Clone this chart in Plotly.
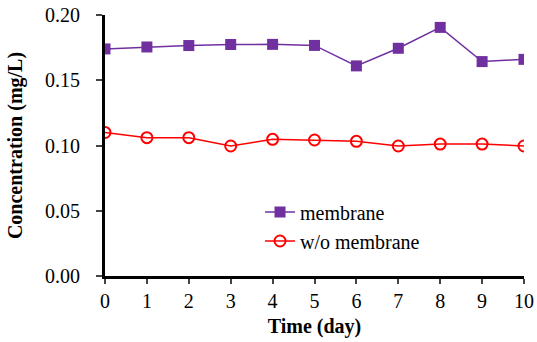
import plotly.graph_objects as go

days = [0, 1, 2, 3, 4, 5, 6, 7, 8, 9, 10]
membrane = [0.174, 0.1755, 0.1766, 0.1774, 0.1775, 0.1767, 0.161, 0.1745, 0.1905, 0.1643, 0.166]
wo_membrane = [0.110, 0.106, 0.106, 0.0996, 0.1047, 0.1042, 0.1032, 0.0996, 0.1011, 0.1011, 0.0996]
y_ticks = [0.0, 0.05, 0.10, 0.15, 0.20]
y_tick_labels = ["0.00", "0.05", "0.10", "0.15", "0.20"]

font_family = "Liberation Serif"
fs = 20

fig = go.Figure()
fig.add_trace(go.Scatter(
    x=days, y=membrane, name="membrane", mode="lines+markers",
    line=dict(color="#7030A0", width=1.5),
    marker=dict(symbol="square", size=11, color="#7030A0"),
))
fig.add_trace(go.Scatter(
    x=days, y=wo_membrane, name="w/o membrane", mode="lines+markers",
    line=dict(color="#FF0000", width=1.5),
    marker=dict(symbol="circle-open", size=11, color="#FF0000", line=dict(width=2)),
))

fig.update_layout(
    width=537, height=342,
    margin=dict(l=105, r=13, t=15, b=66),
    paper_bgcolor="white", plot_bgcolor="white",
    font=dict(family=font_family, size=fs, color="black"),
    legend=dict(x=0.37, y=0.32, xanchor="left", yanchor="top",
                bgcolor="rgba(0,0,0,0)", font=dict(size=fs, family=font_family),
                itemwidth=30, tracegroupgap=4),
    xaxis=dict(
        range=[0, 10], tickvals=days, ticks="outside", ticklen=5, tickwidth=2,
        showline=True, linewidth=3, linecolor="black", showgrid=False, zeroline=False,
        automargin=False, tickfont=dict(size=fs, family=font_family),
        title=dict(text="<b>Time (day)</b>", font=dict(size=fs, family=font_family), standoff=8),
    ),
    yaxis=dict(
        range=[0, 0.2], tickvals=y_ticks, ticktext=y_tick_labels, ticks="outside",
        ticklen=6, tickwidth=2, ticklabelstandoff=12,
        showline=True, linewidth=3, linecolor="black", showgrid=False, zeroline=False,
        automargin=False, tickfont=dict(size=fs, family=font_family),
        title=dict(text="<b>Concentration (mg/L)</b>", font=dict(size=fs, family=font_family), standoff=18),
    ),
)

fig.write_html("out.html")
